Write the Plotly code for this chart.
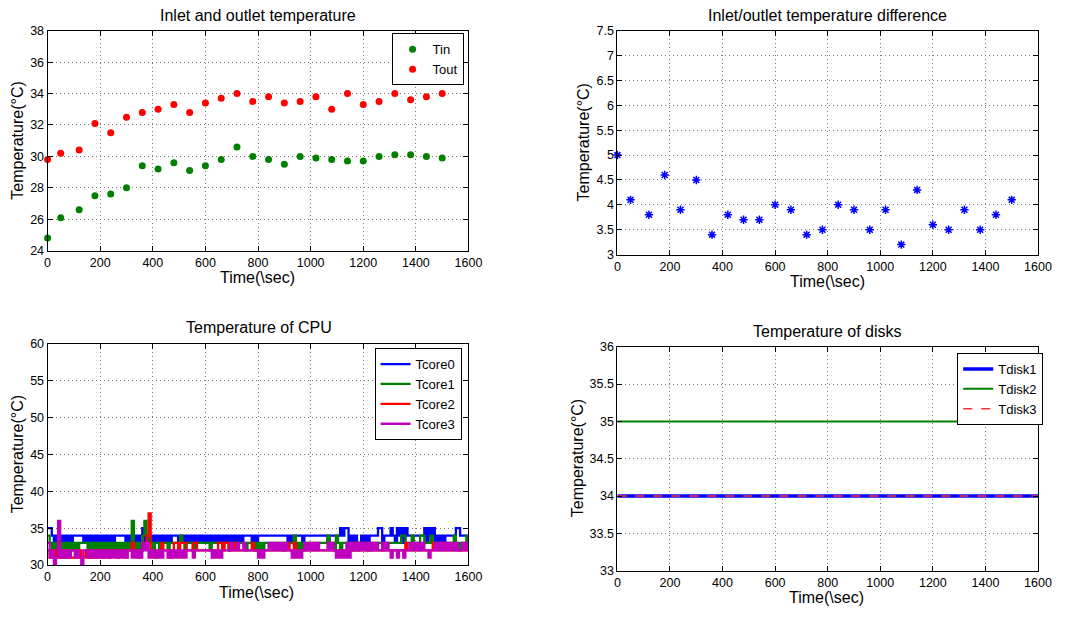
import plotly.graph_objects as go

W, H = 1071, 617

# ---------------- data ----------------
time_io = [0, 50, 120, 180, 240, 300, 360, 420, 480, 540, 600, 660, 720, 780,
           840, 900, 960, 1020, 1080, 1140, 1200, 1260, 1320, 1380, 1440, 1500]
t_in = [24.8, 26.1, 26.6, 27.5, 27.6, 28.0, 29.4, 29.2, 29.6, 29.1, 29.4, 29.8, 30.6,
        30.0, 29.8, 29.5, 30.0, 29.9, 29.8, 29.7, 29.7, 30.0, 30.1, 30.1, 30.0, 29.9]
t_out = [29.8, 30.2, 30.4, 32.1, 31.5, 32.5, 32.8, 33.0, 33.3, 32.8, 33.4, 33.7, 34.0,
         33.5, 33.8, 33.4, 33.5, 33.8, 33.0, 34.0, 33.3, 33.5, 34.0, 33.6, 33.8, 34.0]
t_diff = [5.0, 4.1, 3.8, 4.6, 3.9, 4.5, 3.4, 3.8, 3.7, 3.7, 4.0, 3.9, 3.4,
          3.5, 4.0, 3.9, 3.5, 3.9, 3.2, 4.3, 3.6, 3.5, 3.9, 3.5, 3.8, 4.1]

cpu_step = 8  # seconds between CPU samples
tcore0 = [
    35,35,34,33,34,33,34,33,34,33,34,33,34,34,34,34,34,33,34,33,34,33,34,33,34,
    33,34,33,34,33,34,33,34,34,34,34,34,33,34,33,34,33,34,33,34,35,33,34,33,34,
    33,34,33,34,33,34,33,34,33,34,34,34,33,34,33,34,33,34,33,34,33,34,33,34,33,
    34,33,34,33,34,33,34,33,34,33,34,33,34,33,34,33,34,33,34,34,34,34,33,34,33,
    34,34,34,34,34,34,34,34,34,34,34,34,34,34,33,34,33,34,34,34,34,33,34,34,34,
    34,34,34,34,34,34,34,34,33,34,34,34,34,34,35,34,35,35,33,34,33,34,33,33,34,
    33,34,33,34,34,34,34,35,35,33,34,34,34,35,34,33,35,34,35,33,35,34,34,34,34,
    34,34,34,34,35,33,35,34,35,33,34,33,34,33,34,34,34,34,34,35,35,34,34,34,34,
    34]
tcore1 = [
    34,33,32,33,32,33,32,33,32,33,32,33,32,33,32,33,33,33,33,32,33,32,33,32,33,
    32,33,32,33,32,33,32,33,32,33,32,33,32,33,32,36,33,32,33,32,34,36,34,33,33,
    32,33,33,32,33,33,33,32,33,33,33,33,33,34,33,32,33,33,33,32,33,33,33,33,33,
    33,33,32,33,33,33,33,33,32,33,33,32,33,33,33,33,33,33,33,32,33,33,33,32,33,
    32,33,32,33,33,33,33,33,33,33,33,33,32,33,33,33,33,34,33,32,33,32,33,33,33,
    33,33,33,33,33,33,33,33,34,33,33,32,34,33,32,33,33,33,33,33,32,33,32,33,33,
    33,33,32,33,33,33,33,33,33,32,33,33,33,33,33,33,33,33,34,34,33,33,33,34,33,
    33,33,34,34,33,33,33,34,33,33,33,33,33,33,33,33,33,33,34,33,32,33,33,33,34,
    33]
tcore2 = [
    32,31,32,31,32,31,32,31,32,31,32,31,31,32,31,32,31,31,32,31,32,31,32,31,32,
    32,31,32,32,31,32,32,32,31,32,32,32,31,32,32,33,32,32,31,32,33,33,34,37,32,
    32,31,32,32,33,32,32,32,31,32,33,33,32,33,33,33,32,32,32,33,33,32,32,32,32,
    32,32,32,32,32,32,33,33,32,33,33,32,32,32,33,32,32,32,32,32,32,32,33,32,32,
    32,32,32,32,32,32,32,32,32,32,32,32,32,32,33,32,32,33,32,32,32,32,32,32,32,
    32,32,32,32,32,32,32,32,32,32,32,32,32,32,32,32,32,32,32,32,32,33,33,32,32,
    32,32,32,32,32,32,32,32,32,32,32,32,32,32,32,32,32,32,32,32,33,32,32,32,32,
    32,32,32,32,32,32,32,32,33,32,32,32,33,32,32,32,32,32,32,32,32,32,32,32,32,
    32]
tcore3 = [
    33,31,32,30,31,36,31,32,31,32,31,32,32,31,32,31,30,32,32,31,32,31,32,31,32,
    31,32,31,32,31,32,31,32,31,32,31,32,31,32,32,31,32,31,32,31,33,32,33,31,32,
    31,32,31,32,31,32,32,31,32,31,32,31,32,31,32,31,32,32,32,31,32,32,32,32,32,
    32,32,32,31,32,31,32,31,32,32,32,32,33,32,32,33,32,32,33,32,32,32,32,32,32,
    31,32,31,32,32,33,32,33,32,33,32,33,32,33,32,32,31,32,31,32,31,32,33,32,33,
    32,33,32,33,32,32,32,32,33,32,33,32,31,32,31,32,31,33,31,33,32,33,32,33,32,
    33,32,33,32,33,32,33,32,32,33,32,33,32,31,32,32,31,32,32,31,32,32,33,32,33,
    32,33,32,33,32,32,31,32,32,33,32,33,32,33,32,33,32,33,32,33,32,32,33,32,33,
    32]
assert len(tcore0) == len(tcore1) == len(tcore2) == len(tcore3) == 201
cpu_time = [i * cpu_step for i in range(len(tcore0))]

disk_time = [0, 1600]
tdisk1 = [34, 34]
tdisk2 = [35, 35]
tdisk3 = [34, 34]

# ---------------- layout helpers ----------------
FONT = "Liberation Sans, Arial, Helvetica, sans-serif"


def px(x):
    return x / W


def py(y):
    return 1 - y / H


def axis(domain, rng, dtick, anchor):
    return dict(domain=domain, range=rng, dtick=dtick, tick0=rng[0], anchor=anchor,
                showline=True, linecolor="black", linewidth=1, mirror="ticks",
                ticks="inside", ticklen=5, tickcolor="black", tickwidth=1,
                showgrid=True, gridcolor="#7a7a7a", griddash="1px,3px", gridwidth=1,
                zeroline=False, fixedrange=True,
                tickfont=dict(size=12.5, color="black", family=FONT))


fig = go.Figure()

# top-left
fig.add_trace(go.Scatter(x=time_io, y=t_in, mode="markers", name="Tin",
                         marker=dict(color="#008000", size=7), cliponaxis=False,
                         xaxis="x", yaxis="y", legend="legend"))
fig.add_trace(go.Scatter(x=time_io, y=t_out, mode="markers", name="Tout",
                         marker=dict(color="#ff0000", size=7), cliponaxis=False,
                         xaxis="x", yaxis="y", legend="legend"))
# top-right
fig.add_trace(go.Scatter(x=time_io, y=t_diff, mode="markers", name="dT", showlegend=False,
                         marker=dict(symbol="asterisk-open", size=7, color="#0000ff",
                                     line=dict(color="#0000ff", width=1.5)),
                         cliponaxis=False, xaxis="x2", yaxis="y2"))
# bottom-left
for name, vals, col in [("Tcore0", tcore0, "#0000ff"), ("Tcore1", tcore1, "#008000"),
                        ("Tcore2", tcore2, "#ff0000"), ("Tcore3", tcore3, "#bf00bf")]:
    fig.add_trace(go.Scatter(x=cpu_time, y=vals, mode="lines", name=name,
                             line=dict(color=col, width=2.3, shape="hv", simplify=False),
                             xaxis="x3", yaxis="y3", legend="legend2"))
# bottom-right
fig.add_trace(go.Scatter(x=disk_time, y=tdisk1, mode="lines", name="Tdisk1",
                         line=dict(color="#0000ff", width=3.5),
                         xaxis="x4", yaxis="y4", legend="legend3"))
fig.add_trace(go.Scatter(x=disk_time, y=tdisk2, mode="lines", name="Tdisk2",
                         line=dict(color="#008000", width=2),
                         xaxis="x4", yaxis="y4", legend="legend3"))
fig.add_trace(go.Scatter(x=disk_time, y=tdisk3, mode="lines", name="Tdisk3",
                         line=dict(color="#ff3030", width=1.5, dash="dash"),
                         xaxis="x4", yaxis="y4", legend="legend3"))

dx_left = [px(45.3), px(473)]
dx_right = [px(624.3), px(1051.7)]

leg_common = dict(bgcolor="white", bordercolor="black", borderwidth=1,
                  font=dict(size=13, family=FONT, color="black"),
                  xanchor="right", yanchor="top", tracegroupgap=0)

annotations = []


def text(x, y, s, size, angle=0):
    annotations.append(dict(x=px(x), y=py(y), xref="paper", yref="paper", text=s,
                            showarrow=False, xanchor="center", yanchor="middle",
                            textangle=angle,
                            font=dict(size=size, family=FONT, color="black")))


text(259, 9, "Inlet and outlet temperature", 16)
text(838, 9, "Inlet/outlet temperature difference", 16)
text(260, 328, "Temperature of CPU", 16)
text(838, 332, "Temperature of disks", 16)
text(259, 277, "Time(\\sec)", 16)
text(838, 281, "Time(\\sec)", 16)
text(258, 599, "Time(\\sec)", 16)
text(837, 604, "Time(\\sec)", 16)
text(15, 137, "Temperature(°C)", 16, -90)
text(590, 139, "Temperature(°C)", 16, -90)
text(15, 458, "Temperature(°C)", 16, -90)
text(584, 462, "Temperature(°C)", 16, -90)

fig.update_layout(
    width=W, height=H, margin=dict(l=0, r=0, t=0, b=0),
    paper_bgcolor="white", plot_bgcolor="white",
    font=dict(family=FONT, color="black"),
    showlegend=True,
    xaxis=axis(dx_left, [0, 1600], 200, "y"),
    yaxis=axis([py(249.3), py(24.3)], [24, 38], 2, "x"),
    xaxis2=axis(dx_right, [0, 1600], 200, "y2"),
    yaxis2=axis([py(253.3), py(24.3)], [3, 7.5], 0.5, "x2"),
    xaxis3=axis(dx_left, [0, 1600], 200, "y3"),
    yaxis3=axis([py(571), py(344.7)], [30, 60], 5, "x3"),
    xaxis4=axis(dx_right, [0, 1600], 200, "y4"),
    yaxis4=axis([py(576.7), py(347.7)], [33, 36], 0.5, "x4"),
    legend=dict(x=px(468), y=py(27), **leg_common),
    legend2=dict(x=px(466), y=py(349), **leg_common),
    legend3=dict(x=px(1057), y=py(354), **leg_common),
    annotations=annotations,
)

fig.write_html("out.html", config={"displayModeBar": False})
